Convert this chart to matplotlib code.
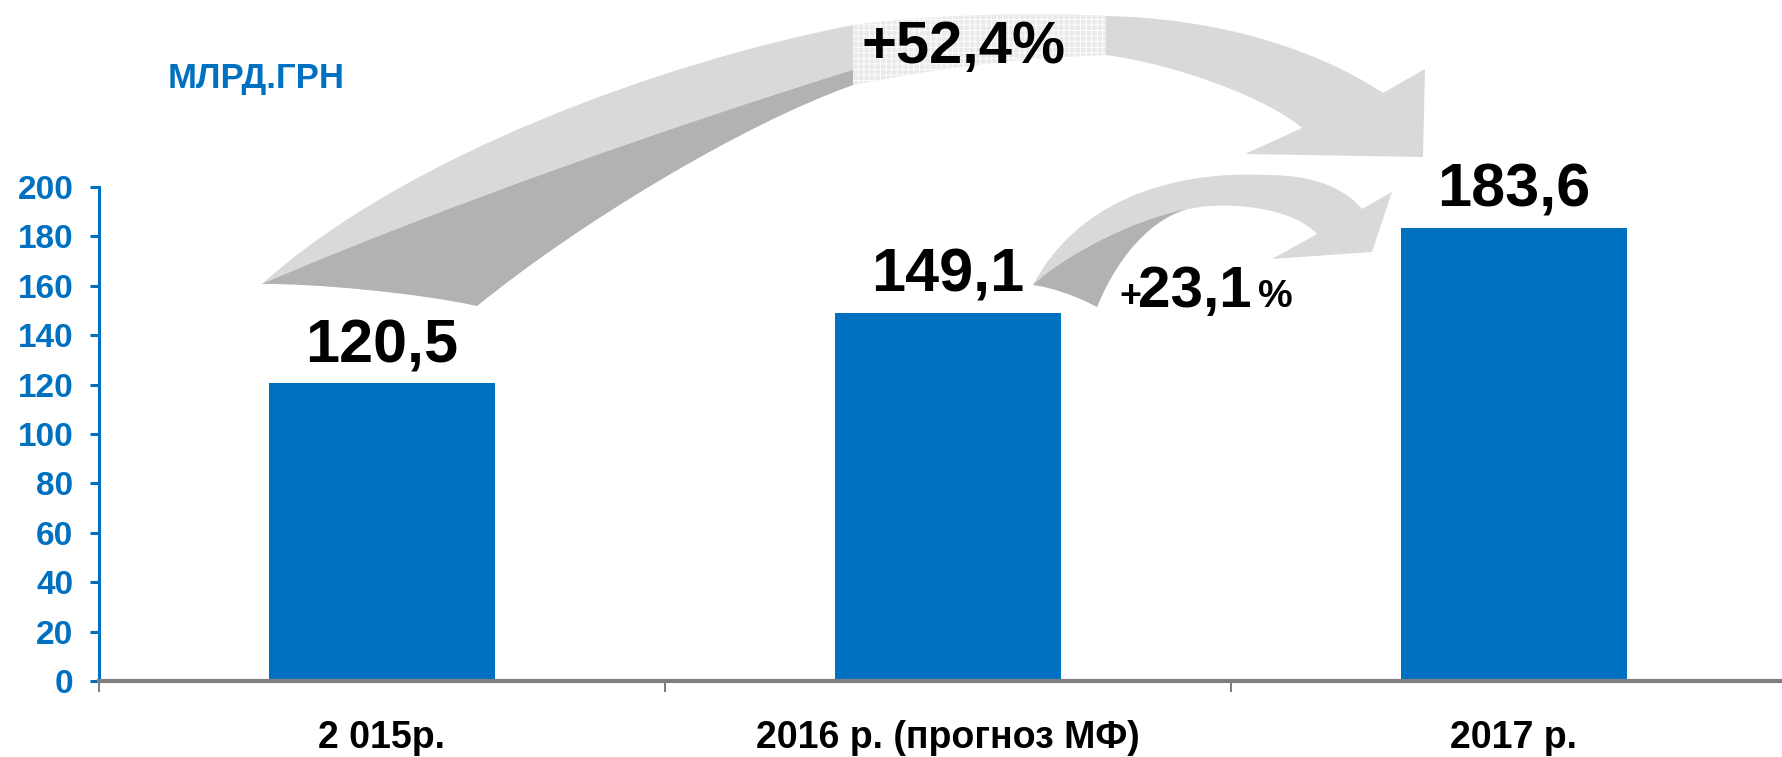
import matplotlib
matplotlib.use("Agg")
import matplotlib.pyplot as plt
from matplotlib.path import Path
from matplotlib.patches import PathPatch, Rectangle

plt.rcParams['font.family'] = ['Liberation Sans', 'DejaVu Sans']
plt.rcParams['hatch.linewidth'] = 0.6

# data
categories = ["2 015р.", "2016 р. (прогноз МФ)", "2017 р."]
values = [120.5, 149.1, 183.6]
value_labels = ["120,5", "149,1", "183,6"]
yticks = [0, 20, 40, 60, 80, 100, 120, 140, 160, 180, 200]
unit_label = "МЛРД.ГРН"
growth_total = "+52,4%"
growth_last = "23,1"

BLUE = "#0070C0"
LIGHT = "#D9D9D9"
DARK = "#B2B2B2"

W, H = 1783, 757
fig = plt.figure(figsize=(W / 100, H / 100), dpi=100)

# overlay in pixel coords for the decorative curved arrows
ov = fig.add_axes([0, 0, 1, 1])
ov.set_xlim(0, W)
ov.set_ylim(H, 0)
ov.axis("off")
ov.set_zorder(0)

M, C, L, Z = Path.MOVETO, Path.CURVE4, Path.LINETO, Path.CLOSEPOLY


def shape(pts, codes, color, z=1):
    p = PathPatch(Path(pts, codes), facecolor=color, edgecolor="none", zorder=z)
    ov.add_patch(p)
    return p


# big arrow 2015 -> 2017
big_pts = [(262, 284),
           (404, 156), (662, 62), (853, 25),
           (930, 15), (1030, 12), (1106, 16),
           (1210, 18), (1310, 45), (1383, 93),
           (1425, 69), (1423, 157), (1245, 154), (1302, 128),
           (1270, 100), (1180, 65), (1106, 55),
           (1000, 58), (920, 72), (853, 85),
           (740, 125), (575, 226), (477, 306),
           (420, 293), (310, 283), (262, 284),
           (262, 284)]
big_codes = [M] + [C] * 9 + [L] * 4 + [C] * 12 + [Z]
band = shape(big_pts, big_codes, LIGHT)

big_dark = [(262, 284),
            (446, 205), (679, 124), (853, 70),
            (853, 85),
            (740, 125), (575, 226), (477, 306),
            (420, 293), (310, 283), (262, 284),
            (262, 284)]
shape(big_dark, [M] + [C] * 3 + [L] + [C] * 6 + [Z], DARK, 2)

chk = Rectangle((853, 0), 253, 110, facecolor=(1, 1, 1, 0.45), edgecolor="white",
                hatch="+++", lw=0, zorder=3)
ov.add_patch(chk)
chk.set_clip_path(band)

# small arrow 2016 -> 2017
small_pts = [(1033, 285),
             (1075, 205), (1165, 170), (1267, 175),
             (1320, 175), (1348, 192), (1362, 209),
             (1392, 192), (1372, 252), (1272, 259), (1317, 234),
             (1295, 210), (1240, 202), (1200, 207),
             (1160, 210), (1120, 250), (1097, 307),
             (1075, 295), (1050, 287), (1033, 285),
             (1033, 285)]
shape(small_pts, [M] + [C] * 6 + [L] * 4 + [C] * 9 + [Z], LIGHT)
small_dark = [(1033, 285),
              (1065, 255), (1140, 215), (1200, 207),
              (1160, 210), (1120, 250), (1097, 307),
              (1075, 295), (1050, 287), (1033, 285),
              (1033, 285)]
shape(small_dark, [M] + [C] * 9 + [Z], DARK, 2)

ov.text(862, 63, growth_total, fontsize=43, fontweight="bold", va="baseline", zorder=5)
ov.text(1119, 307, "+", fontsize=27, fontweight="bold", va="baseline", zorder=5)
ov.text(1138, 307, growth_last, fontsize=42, fontweight="bold", va="baseline", zorder=5)
ov.text(1258, 307, "%", fontsize=28, fontweight="bold", va="baseline", zorder=5)
ov.text(168, 88, unit_label, fontsize=25, fontweight="bold", color=BLUE, va="baseline")

# main bar chart
ax = fig.add_axes([99 / W, 76 / H, 1698 / W, 494 / H])
ax.set_zorder(1)
ax.patch.set_visible(False)
x = range(len(values))
ax.bar(x, values, width=0.40, color=BLUE, zorder=2)
for i, v in enumerate(values):
    ax.annotate(value_labels[i], (i, v), xytext=(0, 15), textcoords="offset points",
                ha="center", va="baseline", fontsize=44, fontweight="bold",
                annotation_clip=False)

ax.set_xlim(-0.5, 2.5)
ax.set_ylim(0, 200)
ax.set_yticks(yticks)
ax.set_yticklabels([str(t) for t in yticks], fontsize=24, fontweight="bold", color=BLUE)
ax.tick_params(axis="y", colors=BLUE, width=2.2, length=6.5, pad=12)

ax.set_xticks([-0.5, 0.5, 1.5, 2.5])
ax.set_xticklabels([])
ax.set_xticks(list(x), minor=True)
ax.set_xticklabels(categories, minor=True, fontsize=27, fontweight="bold")
ax.tick_params(axis="x", which="major", colors="#808080", width=1.5, length=8)
ax.tick_params(axis="x", which="minor", length=0, pad=28, labelcolor="black")

for s in ["top", "right"]:
    ax.spines[s].set_visible(False)
ax.spines["left"].set_color(BLUE)
ax.spines["left"].set_linewidth(2.2)
ax.spines["bottom"].set_color("#808080")
ax.spines["bottom"].set_linewidth(3)
ax.spines["bottom"].set_zorder(3)

fig.savefig("out.png", dpi=100)
